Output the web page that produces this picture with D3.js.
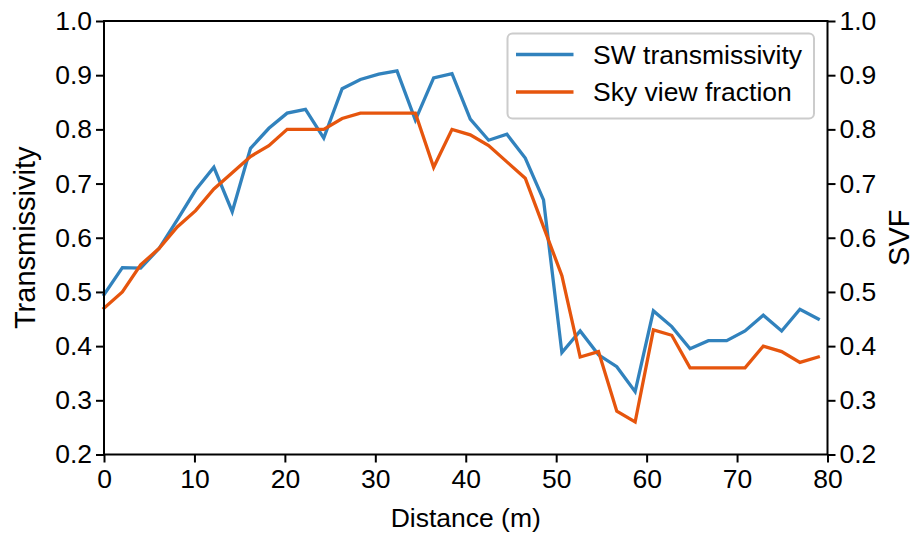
<!DOCTYPE html>
<html>
<head>
<meta charset="utf-8">
<script src="https://cdn.jsdelivr.net/npm/d3@7"></script>
<style>
  html, body { margin: 0; padding: 0; background: #fff; }
  svg { display: block; }
  text { font-family: "Liberation Sans", Arial, Helvetica, sans-serif; fill: #000; }
</style>
</head>
<body>
<svg id="chart" width="916" height="535"></svg>
<script>
// Distance along the transect (m)
const distance = [0, 2.03, 4.05, 6.08, 8.10, 10.13, 12.15, 14.18, 16.20, 18.23,
  20.25, 22.28, 24.30, 26.33, 28.35, 30.38, 32.40, 34.43, 36.45, 38.48,
  40.50, 42.53, 44.55, 46.58, 48.60, 50.63, 52.65, 54.68, 56.70, 58.73,
  60.75, 62.78, 64.80, 66.83, 68.85, 70.88, 72.90, 74.93, 76.95, 78.98];

// Shortwave transmissivity (left axis)
const swTransmissivity = [0.495, 0.545, 0.544, 0.580, 0.633, 0.688, 0.730, 0.648, 0.765, 0.802,
  0.830, 0.837, 0.784, 0.875, 0.892, 0.902, 0.908, 0.817, 0.895, 0.903,
  0.819, 0.780, 0.791, 0.747, 0.670, 0.388, 0.428, 0.384, 0.362, 0.316,
  0.465, 0.436, 0.395, 0.410, 0.410, 0.428, 0.457, 0.428, 0.468, 0.450];

// Sky view fraction (right axis)
const skyViewFraction = [0.47, 0.50, 0.55, 0.58, 0.62, 0.65, 0.69, 0.72, 0.75, 0.77,
  0.80, 0.80, 0.80, 0.82, 0.83, 0.83, 0.83, 0.83, 0.73, 0.80,
  0.79, 0.77, 0.74, 0.71, 0.62, 0.53, 0.38, 0.39, 0.28, 0.26,
  0.43, 0.42, 0.36, 0.36, 0.36, 0.36, 0.40, 0.39, 0.37, 0.38];

const xTicks = [0, 10, 20, 30, 40, 50, 60, 70, 80];
const yTicks = [0.2, 0.3, 0.4, 0.5, 0.6, 0.7, 0.8, 0.9, 1.0];
const seriesNames = ["SW transmissivity", "Sky view fraction"];
const seriesColors = ["#3182bd", "#e6550d"];

const svg = d3.select("#chart");
const plot = { left: 104, right: 827.5, top: 21, bottom: 454.5 };
const FS = 26.5;      // tick labels, legend, x title
const FS_Y = 29;      // y titles

const x = d3.scaleLinear().domain([0, 80]).range([plot.left, plot.right]);
const yLeft = d3.scaleLinear().domain([0.2, 1.0]).range([plot.bottom, plot.top]);
const yRight = d3.scaleLinear().domain([0.2, 1.0]).range([plot.bottom, plot.top]);

// Data lines
const lineSW = d3.line().x((d, i) => x(distance[i])).y(d => yLeft(d));
const lineSVF = d3.line().x((d, i) => x(distance[i])).y(d => yRight(d));

svg.append("path").datum(swTransmissivity)
  .attr("d", lineSW).attr("fill", "none")
  .attr("stroke", seriesColors[0]).attr("stroke-width", 3.3)
  .attr("stroke-linejoin", "miter").attr("stroke-linecap", "square");

svg.append("path").datum(skyViewFraction)
  .attr("d", lineSVF).attr("fill", "none")
  .attr("stroke", seriesColors[1]).attr("stroke-width", 3.3)
  .attr("stroke-linejoin", "miter").attr("stroke-linecap", "square");

// Axes
function styleAxis(g) {
  g.selectAll("path.domain").remove();
  g.selectAll(".tick line").attr("stroke", "#000").attr("stroke-width", 2);
  g.selectAll(".tick text").attr("font-size", FS).attr("fill", "#000")
    .style("font-family", '"Liberation Sans", Arial, sans-serif');
}

svg.append("g").attr("transform", `translate(0,${plot.bottom})`)
  .call(d3.axisBottom(x).tickValues(xTicks).tickFormat(d3.format("d")).tickSize(8).tickPadding(7))
  .call(styleAxis);

svg.append("g").attr("transform", `translate(${plot.left},0)`)
  .call(d3.axisLeft(yLeft).tickValues(yTicks).tickFormat(d3.format(".1f")).tickSize(8).tickPadding(4))
  .call(styleAxis);

svg.append("g").attr("transform", `translate(${plot.right},0)`)
  .call(d3.axisRight(yRight).tickValues(yTicks).tickFormat(d3.format(".1f")).tickSize(8).tickPadding(4))
  .call(styleAxis);

// Frame around the plot area
svg.append("rect")
  .attr("x", plot.left).attr("y", plot.top)
  .attr("width", plot.right - plot.left).attr("height", plot.bottom - plot.top)
  .attr("fill", "none").attr("stroke", "#000").attr("stroke-width", 2);

// Axis titles
svg.append("text")
  .attr("x", (plot.left + plot.right) / 2).attr("y", 527)
  .attr("text-anchor", "middle").attr("font-size", FS)
  .text("Distance (m)");

svg.append("text")
  .attr("transform", `translate(35,${(plot.top + plot.bottom) / 2}) rotate(-90)`)
  .attr("text-anchor", "middle").attr("font-size", FS_Y)
  .text("Transmissivity");

svg.append("text")
  .attr("transform", `translate(909,${(plot.top + plot.bottom) / 2}) rotate(-90)`)
  .attr("text-anchor", "middle").attr("font-size", FS_Y)
  .text("SVF");

// Legend
const legend = svg.append("g");
legend.append("rect")
  .attr("x", 507.5).attr("y", 33.5).attr("width", 306.5).attr("height", 85)
  .attr("rx", 5).attr("ry", 5)
  .attr("fill", "#fff").attr("fill-opacity", 0.8)
  .attr("stroke", "#cccccc").attr("stroke-width", 2);

seriesNames.forEach((name, i) => {
  const cy = 54.5 + i * 37.5;
  legend.append("line")
    .attr("x1", 516).attr("x2", 573.5).attr("y1", cy).attr("y2", cy)
    .attr("stroke", seriesColors[i]).attr("stroke-width", 3.3);
  legend.append("text")
    .attr("x", 593).attr("y", cy + 9.3)
    .attr("font-size", FS)
    .text(name);
});
</script>
</body>
</html>
